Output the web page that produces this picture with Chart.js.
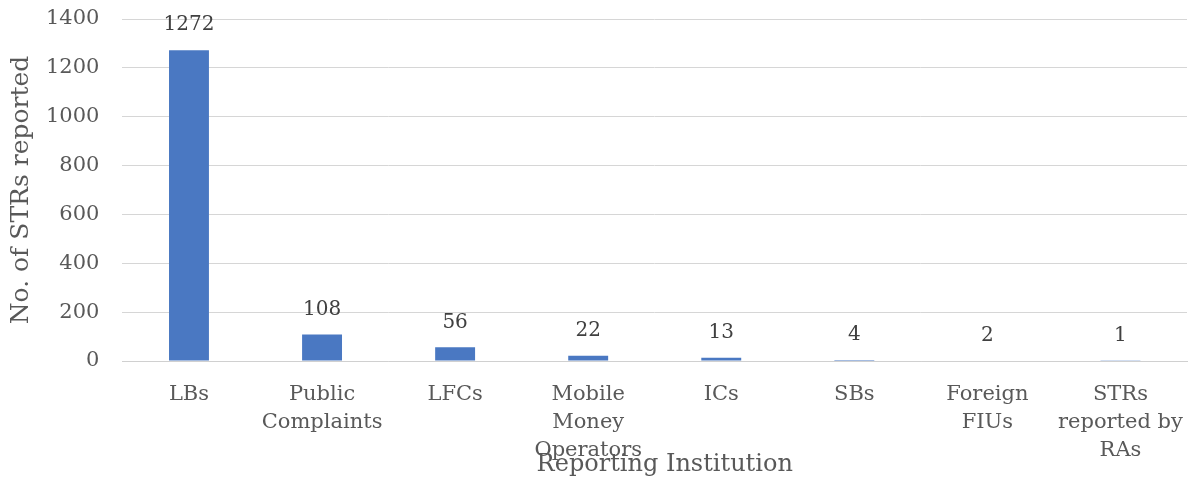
<!DOCTYPE html>
<html>
<head>
<meta charset="utf-8">
<script src="https://cdn.jsdelivr.net/npm/chart.js@4"></script>
<style>
  html, body { margin: 0; padding: 0; background: #fff; }
  #wrap { width: 1191px; height: 485px; }
</style>
</head>
<body>
<div id="wrap"><canvas id="strChart"></canvas></div>
<script>
const categories = [
  'LBs',
  ['Public', 'Complaints'],
  'LFCs',
  ['Mobile', 'Money', 'Operators'],
  'ICs',
  'SBs',
  ['Foreign', 'FIUs'],
  ['STRs', 'reported by', 'RAs']
];
const strCounts = [1272, 108, 56, 22, 13, 4, 2, 1];
const yTicks = [0, 200, 400, 600, 800, 1000, 1200, 1400];
const xTitle = 'Reporting Institution';

const serif = '"DejaVu Serif", serif';

// value above each bar, plus the x axis title (it sits over the last tick line, as in the source)
const chartText = {
  id: 'chartText',
  afterDatasetsDraw(chart) {
    const ctx = chart.ctx;
    const meta = chart.getDatasetMeta(0);
    const area = chart.chartArea;
    ctx.save();
    ctx.font = '20px ' + serif;
    ctx.fillStyle = '#404040';
    ctx.textAlign = 'center';
    ctx.textBaseline = 'middle';
    meta.data.forEach((bar, i) => {
      ctx.fillText(String(strCounts[i]), bar.x, bar.y - 25);
    });
    ctx.font = '24px ' + serif;
    ctx.fillStyle = '#595959';
    ctx.fillText(xTitle, (area.left + area.right) / 2 + 10, 465);
    ctx.restore();
  }
};

const ctx = document.getElementById('strChart').getContext('2d');
new Chart(ctx, {
  type: 'bar',
  data: {
    labels: categories,
    datasets: [{
      data: strCounts,
      backgroundColor: '#4a78c2',
      barPercentage: 0.3,
      categoryPercentage: 1.0
    }]
  },
  options: {
    responsive: true,
    maintainAspectRatio: false,
    animation: false,
    layout: { padding: { top: 19, right: 4, left: 6, bottom: 22 } },
    plugins: {
      legend: { display: false },
      tooltip: { enabled: false }
    },
    scales: {
      x: {
        grid: { display: false, drawTicks: false },
        border: { color: '#d0d0d0' },
        afterFit(axis) {
          axis.paddingLeft = 0;
          axis.paddingRight = 0;
          axis.height = 102;
        },
        ticks: {
          color: '#595959',
          font: { family: serif, size: 21, lineHeight: 1.333 },
          maxRotation: 0,
          autoSkip: false,
          padding: 20
        }
      },
      y: {
        min: 0,
        max: 1400,
        afterBuildTicks(axis) {
          axis.ticks = yTicks.map(v => ({ value: v }));
        },
        afterFit(axis) {
          axis.paddingTop = 0;
          axis.paddingBottom = 0;
          axis.width = axis.width - 23;
        },
        grid: { color: '#d6d6d6', drawTicks: false },
        border: { display: false },
        ticks: {
          color: '#595959',
          font: { family: serif, size: 21 },
          padding: 23,
          callback: v => String(v)
        },
        title: {
          display: true,
          text: 'No. of STRs reported',
          color: '#595959',
          font: { family: serif, size: 25 },
          padding: { top: 0, bottom: 10 }
        }
      }
    }
  },
  plugins: [chartText]
});
</script>
</body>
</html>
